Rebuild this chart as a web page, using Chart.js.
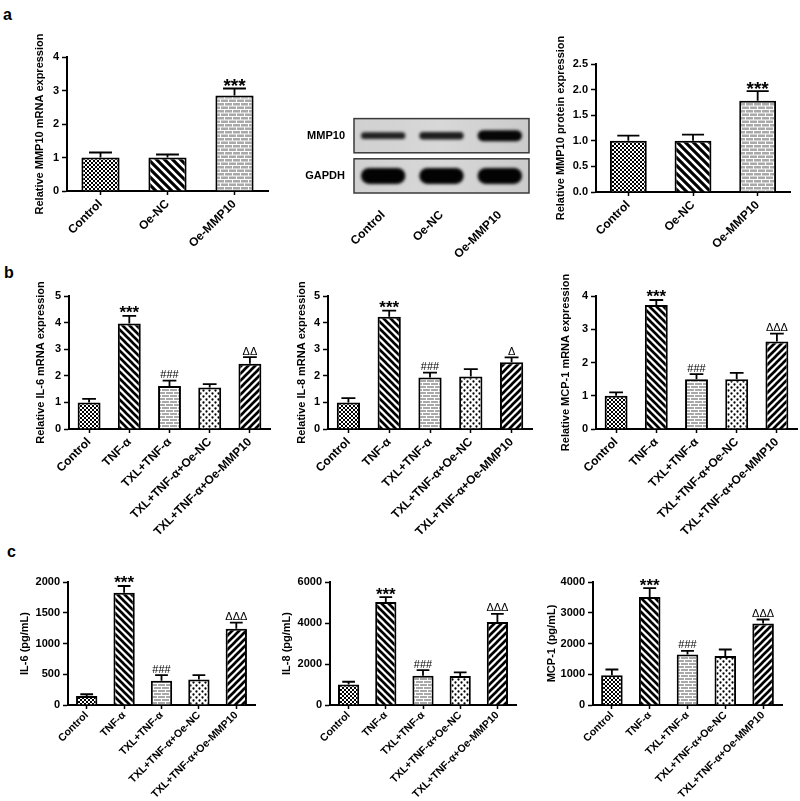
<!DOCTYPE html>
<html>
<head>
<meta charset="utf-8">
<script src="https://cdn.jsdelivr.net/npm/chart.js@4.4.1/dist/chart.umd.min.js"></script>
<style>
html, body { margin: 0; padding: 0; background: #fff; overflow: hidden; }
#fig { position: relative; width: 800px; height: 801px; }
#fig canvas { position: absolute; }
.tag { position: absolute; font: bold 16px Arial, "Liberation Sans", sans-serif; line-height: 16px; color: #000; }
</style>
</head>
<body>
<div id="fig">
  <div class="tag" style="left:3px;top:7px">a</div>
  <div class="tag" style="left:4px;top:265px">b</div>
  <div class="tag" style="left:7px;top:544px">c</div>
  <canvas id="a1"></canvas>
  <canvas id="blot"></canvas>
  <canvas id="a3"></canvas>
  <canvas id="b1"></canvas>
  <canvas id="b2"></canvas>
  <canvas id="b3"></canvas>
  <canvas id="c1"></canvas>
  <canvas id="c2"></canvas>
  <canvas id="c3"></canvas>
</div>
<script>
// groups
const groupsA = ['Control', 'Oe-NC', 'Oe-MMP10'];
const groupsB = ['Control', 'TNF-α', 'TXL+TNF-α', 'TXL+TNF-α+Oe-NC', 'TXL+TNF-α+Oe-MMP10'];

// panel a
const mmp10Mrna = [1.0, 1.0, 2.85];
const mmp10MrnaErr = [0.15, 0.09, 0.21];
const mmp10Protein = [1.0, 1.0, 1.78];
const mmp10ProteinErr = [0.1, 0.12, 0.19];
const marksA = ['', '', '***'];

// western blot, relative band strength per lane
const blotRows = ['MMP10', 'GAPDH'];
const mmp10Band = [0.42, 0.46, 0.68];
const gapdhBand = [1.0, 1.0, 1.0];

// panel b (qPCR)
const il6Mrna = [1.0, 3.97, 1.62, 1.56, 2.45];
const il6MrnaErr = [0.13, 0.28, 0.2, 0.13, 0.25];
const il8Mrna = [1.0, 4.22, 1.94, 1.97, 2.51];
const il8MrnaErr = [0.16, 0.23, 0.18, 0.28, 0.18];
const mcp1Mrna = [1.0, 3.73, 1.5, 1.5, 2.63];
const mcp1MrnaErr = [0.1, 0.15, 0.15, 0.19, 0.24];

// panel c (ELISA, pg/mL)
const il6Elisa = [145, 1825, 395, 415, 1240];
const il6ElisaErr = [30, 110, 90, 70, 100];
const il8Elisa = [1005, 5020, 1430, 1410, 4050];
const il8ElisaErr = [130, 245, 270, 180, 400];
const mcp1Elisa = [970, 3510, 1640, 1590, 2650];
const mcp1ElisaErr = [185, 290, 120, 215, 130];

const marksIL6 = ['', '***', '###', '', 'ΔΔ'];
const marksIL8 = ['', '***', '###', '', 'Δ'];
const marks3 = ['', '***', '###', '', 'ΔΔΔ'];

const FONT = 'Arial, "Liberation Sans", sans-serif';
Chart.defaults.font.family = FONT;
Chart.defaults.color = '#000';

// fill patterns
function tile(w, h, draw) {
  const c = document.createElement('canvas');
  c.width = w; c.height = h;
  const g = c.getContext('2d');
  g.fillStyle = '#fff';
  g.fillRect(0, 0, w, h);
  draw(g);
  return g.createPattern(c, 'repeat');
}
function checker(n) {
  return tile(n, n, g => {
    g.fillStyle = '#000';
    g.fillRect(0, 0, n / 2, n / 2);
    g.fillRect(n / 2, n / 2, n / 2, n / 2);
  });
}
function stripes(n, back) {
  return tile(n, n, g => {
    g.strokeStyle = '#000';
    g.lineWidth = n * 0.38;
    g.beginPath();
    for (let k = -1; k <= 2; k++) {
      if (back) { g.moveTo(k * n - n, -n); g.lineTo(k * n + 2 * n, 2 * n); }
      else { g.moveTo(k * n + n, -n); g.lineTo(k * n - 2 * n, 2 * n); }
    }
    g.stroke();
  });
}
function bricks(w, h) {
  return tile(w, h, g => {
    g.fillStyle = '#a9a9a9';
    g.fillRect(0, 0, w - 1, h / 2 - 1);
    g.fillRect(w / 2, h / 2, w - 1, h / 2 - 1);
    g.fillRect(-w / 2, h / 2, w - 1, h / 2 - 1);
  });
}
function dots(n) {
  return tile(n, n, g => {
    g.fillStyle = '#000';
    g.beginPath();
    g.arc(n / 4, n / 4, n * 0.19, 0, Math.PI * 2);
    g.arc(n * 3 / 4, n * 3 / 4, n * 0.19, 0, Math.PI * 2);
    g.fill();
  });
}

const fillsA = [checker(4), stripes(8, true), bricks(8, 7)];
const fillsB = [checker(4), stripes(7, true), bricks(8, 6), dots(6), stripes(7, false)];

const errorBars = {
  id: 'errorBars',
  afterDatasetsDraw(chart, args, opts) {
    const ds = chart.data.datasets[0];
    const meta = chart.getDatasetMeta(0);
    const y = chart.scales.y;
    const ctx = chart.ctx;
    ctx.save();
    ctx.strokeStyle = '#000';
    ctx.fillStyle = '#000';
    ctx.lineWidth = 1.8;
    ctx.textAlign = 'center';
    ctx.textBaseline = 'alphabetic';
    meta.data.forEach((bar, i) => {
      const top = y.getPixelForValue(ds.data[i] + ds.errors[i]);
      const half = bar.width * 0.3;
      ctx.beginPath();
      ctx.moveTo(bar.x, bar.y);
      ctx.lineTo(bar.x, top);
      ctx.moveTo(bar.x - half, top);
      ctx.lineTo(bar.x + half, top);
      ctx.stroke();
      const m = ds.marks[i];
      if (!m) return;
      ctx.font = m[0] === '*' ? 'bold ' + opts.starSize + 'px ' + FONT : '11px ' + FONT;
      const desc = ctx.measureText(m).actualBoundingBoxDescent;
      ctx.fillText(m, bar.x, top - 2.5 - desc);
    });
    ctx.restore();
  }
};

function sizeCanvas(id, left, top, w, h) {
  const c = document.getElementById(id);
  c.width = w; c.height = h;
  c.style.left = left + 'px'; c.style.top = top + 'px';
  c.style.width = w + 'px'; c.style.height = h + 'px';
  return c;
}

function barPanel(id, box, labels, values, errors, marks, fills, axis, title) {
  const left = Math.round(box.titleX - 7);
  const padTop = 45, padRight = 12;
  const w = box.right + padRight - left;
  const h = padTop + (box.bottom - box.top) + box.xH;
  const canvas = sizeCanvas(id, left, box.top - padTop, w, h);
  new Chart(canvas, {
    type: 'bar',
    data: {
      labels: labels,
      datasets: [{
        data: values,
        errors: errors,
        marks: marks,
        backgroundColor: fills,
        borderColor: '#000',
        borderWidth: 2,
        barPercentage: 0.57,
        categoryPercentage: 1
      }]
    },
    options: {
      responsive: false,
      animation: false,
      layout: { padding: { top: padTop, right: padRight, left: 0, bottom: 0 } },
      plugins: {
        legend: { display: false },
        tooltip: { enabled: false },
        errorBars: { starSize: box.star }
      },
      scales: {
        x: {
          grid: { drawOnChartArea: false, offset: false, tickLength: 4, tickWidth: 1.5, tickColor: '#000' },
          border: { color: '#000', width: 2 },
          ticks: { font: { size: box.xFont, weight: 'bold' }, color: '#000', minRotation: 45, maxRotation: 45, padding: box.xPad, autoSkip: false },
          afterFit: s => { s.height = box.xH; }
        },
        y: {
          min: 0,
          max: axis.max,
          grid: { drawOnChartArea: false, tickLength: 5, tickWidth: 1.5, tickColor: '#000' },
          border: { color: '#000', width: 2 },
          ticks: { stepSize: axis.step, font: { size: 11, weight: 'bold' }, color: '#000', padding: 3,
                   callback: v => axis.fixed ? v.toFixed(axis.fixed) : v },
          title: { display: true, text: title, font: { size: 11, weight: 'bold' }, color: '#000', padding: 0 },
          afterFit: s => { s.width = box.axisX - left; }
        }
      }
    },
    plugins: [errorBars]
  });
}

// blot drawn through the lane / row scales
const blotPlugin = {
  id: 'blot',
  beforeDatasetsDraw(chart) {
    const { ctx, chartArea: a, scales: { x, y } } = chart;
    const rows = [mmp10Band, gapdhBand];
    const rowH = (a.bottom - a.top) / rows.length;
    const laneW = (a.right - a.left) / groupsA.length;
    rows.forEach((band, r) => {
      const cy = y.getPixelForValue(r);
      const bh = rowH - 6;
      const g = ctx.createLinearGradient(a.left, 0, a.right, 0);
      g.addColorStop(0, '#d0d0d0');
      g.addColorStop(0.5, '#d8d8d8');
      g.addColorStop(1, '#cbcbcb');
      ctx.save();
      ctx.fillStyle = g;
      ctx.fillRect(a.left, cy - bh / 2, a.right - a.left, bh);
      band.forEach((v, i) => {
        const cx = x.getPixelForValue(i);
        const t = 16 * v;
        const bw = laneW * 0.76;
        ctx.save();
        ctx.filter = 'blur(1.4px)';
        ctx.globalAlpha = Math.min(1, 0.65 + 0.5 * v);
        ctx.fillStyle = '#030303';
        ctx.beginPath();
        ctx.roundRect(cx - bw / 2, cy - t / 2, bw, t, t / 2);
        ctx.fill();
        ctx.restore();
      });
      ctx.strokeStyle = '#3a3a3a';
      ctx.lineWidth = 1.5;
      ctx.strokeRect(a.left, cy - bh / 2, a.right - a.left, bh);
      ctx.restore();
    });
  }
};

function blotPanel() {
  const box = { left: 290, axisX: 354, right: 529, top: 113, bottom: 196, xH: 85 };
  const padTop = 13, padRight = 12;
  const w = box.right + padRight - box.left;
  const h = padTop + (box.bottom - box.top) + box.xH;
  const canvas = sizeCanvas('blot', box.left, box.top - padTop, w, h);
  new Chart(canvas, {
    type: 'bar',
    data: { labels: groupsA, datasets: [] },
    options: {
      responsive: false,
      animation: false,
      layout: { padding: { top: padTop, right: padRight, left: 0, bottom: 0 } },
      plugins: { legend: { display: false }, tooltip: { enabled: false } },
      scales: {
        x: {
          type: 'category', offset: true,
          grid: { display: false }, border: { display: false },
          ticks: { font: { size: 12, weight: 'bold' }, color: '#000', minRotation: 45, maxRotation: 45, padding: 4 },
          afterFit: s => { s.height = box.xH; }
        },
        y: {
          type: 'category', labels: blotRows, offset: true,
          grid: { display: false, drawTicks: false }, border: { display: false },
          ticks: { font: { size: 11, weight: 'bold' }, color: '#000', padding: 9 },
          afterFit: s => { s.width = box.axisX - box.left; }
        }
      }
    },
    plugins: [blotPlugin]
  });
}

barPanel('a1', { titleX: 40, axisX: 67, top: 57, bottom: 191, right: 268, xH: 80, star: 19, xFont: 12, xPad: 2 },
  groupsA, mmp10Mrna, mmp10MrnaErr, marksA, fillsA, { max: 4, step: 1 }, 'Relative MMP10 mRNA expression');
blotPanel();
barPanel('a3', { titleX: 561, axisX: 596, top: 64, bottom: 192, right: 790, xH: 80, star: 19, xFont: 12, xPad: 2 },
  groupsA, mmp10Protein, mmp10ProteinErr, marksA, fillsA, { max: 2.5, step: 0.5, fixed: 1 }, 'Relative MMP10 protein expression');

barPanel('b1', { titleX: 41, axisX: 69, top: 296, bottom: 429, right: 270, xH: 130, star: 17, xFont: 12, xPad: 2 },
  groupsB, il6Mrna, il6MrnaErr, marksIL6, fillsB, { max: 5, step: 1 }, 'Relative IL-6 mRNA expression');
barPanel('b2', { titleX: 302, axisX: 328, top: 296, bottom: 429, right: 532, xH: 130, star: 17, xFont: 12, xPad: 2 },
  groupsB, il8Mrna, il8MrnaErr, marksIL8, fillsB, { max: 5, step: 1 }, 'Relative IL-8 mRNA expression');
barPanel('b3', { titleX: 566, axisX: 596, top: 296, bottom: 429, right: 797, xH: 130, star: 17, xFont: 12, xPad: 2 },
  groupsB, mcp1Mrna, mcp1MrnaErr, marks3, fillsB, { max: 4, step: 1 }, 'Relative MCP-1 mRNA expression');

barPanel('c1', { titleX: 25, axisX: 68, top: 582, bottom: 705, right: 255, xH: 96, star: 17, xFont: 10.6, xPad: 0 },
  groupsB, il6Elisa, il6ElisaErr, marks3, fillsB, { max: 2000, step: 500 }, 'IL-6 (pg/mL)');
barPanel('c2', { titleX: 287, axisX: 330, top: 582, bottom: 705, right: 516, xH: 96, star: 17, xFont: 10.6, xPad: 0 },
  groupsB, il8Elisa, il8ElisaErr, marks3, fillsB, { max: 6000, step: 2000 }, 'IL-8 (pg/mL)');
barPanel('c3', { titleX: 552, axisX: 593, top: 582, bottom: 705, right: 782, xH: 96, star: 17, xFont: 10.6, xPad: 0 },
  groupsB, mcp1Elisa, mcp1ElisaErr, marks3, fillsB, { max: 4000, step: 1000 }, 'MCP-1 (pg/mL)');
</script>
</body>
</html>
